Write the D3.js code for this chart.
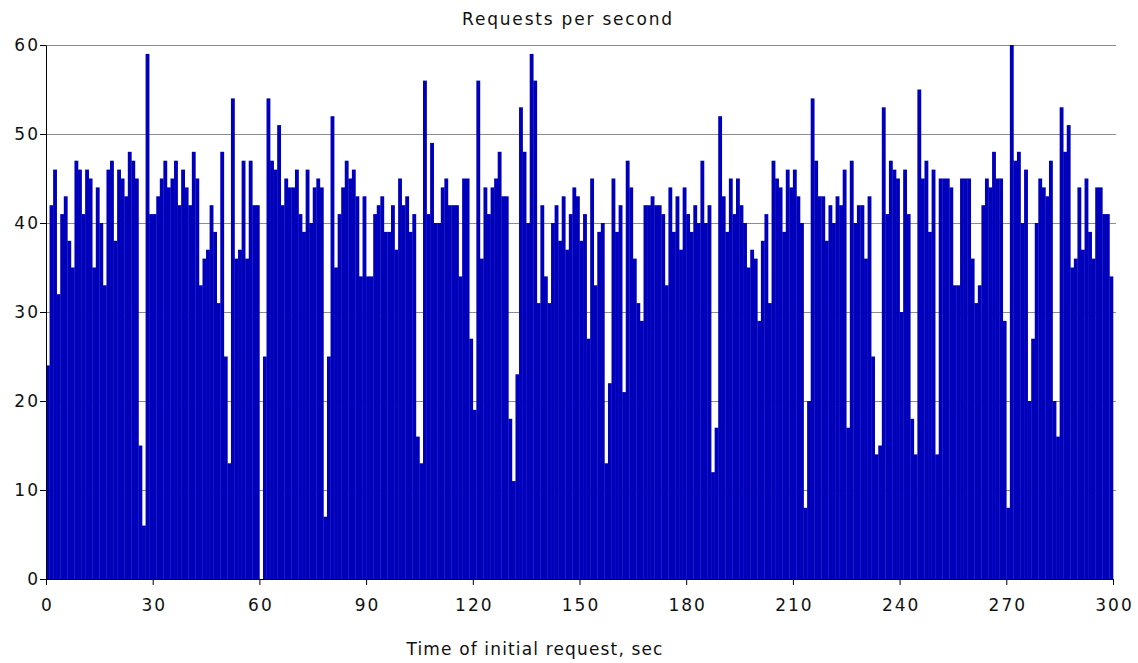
<!DOCTYPE html>
<html>
<head>
<meta charset="utf-8">
<script src="https://cdn.jsdelivr.net/npm/d3@7"></script>
<style>
  body { margin: 0; background: #fff; }
  svg { display: block; font-family: "DejaVu Sans", sans-serif; }
  .axis path, .axis line { stroke: #000; }
  .axis text { font-size: 17px; fill: #111; font-family: "DejaVu Sans", sans-serif; letter-spacing: 2px; }
</style>
</head>
<body>
<script>
// requests counted for each second of the run (0..299)
var requests = [
  24, 42, 46, 32, 41, 43, 38, 35, 47, 46, 41, 46, 45, 35, 44, 40, 33, 46, 47, 38,
  46, 45, 43, 48, 47, 45, 15, 6, 59, 41, 41, 43, 45, 47, 44, 45, 47, 42, 46, 44,
  42, 48, 45, 33, 36, 37, 42, 39, 31, 48, 25, 13, 54, 36, 37, 47, 36, 47, 42, 42,
  0, 25, 54, 47, 46, 51, 42, 45, 44, 44, 46, 41, 39, 46, 40, 44, 45, 44, 7, 25,
  52, 35, 41, 44, 47, 45, 46, 43, 34, 43, 34, 34, 41, 42, 43, 39, 39, 42, 37, 45,
  42, 43, 39, 41, 16, 13, 56, 41, 49, 40, 40, 44, 45, 42, 42, 42, 34, 45, 45, 27,
  19, 56, 36, 44, 41, 44, 45, 48, 43, 43, 18, 11, 23, 53, 48, 40, 59, 56, 31, 42,
  34, 31, 40, 42, 38, 43, 37, 41, 44, 43, 38, 41, 27, 45, 33, 39, 40, 13, 22, 45,
  39, 42, 21, 47, 44, 36, 31, 29, 42, 42, 43, 42, 42, 41, 33, 44, 39, 43, 37, 44,
  41, 39, 42, 40, 47, 40, 42, 12, 17, 52, 43, 39, 45, 41, 45, 42, 40, 35, 37, 36,
  29, 38, 41, 31, 47, 45, 44, 39, 46, 44, 46, 43, 40, 8, 20, 54, 47, 43, 43, 38,
  42, 40, 43, 42, 46, 17, 47, 40, 42, 42, 36, 43, 25, 14, 15, 53, 41, 47, 46, 45,
  30, 46, 41, 18, 14, 55, 45, 47, 39, 46, 14, 45, 45, 45, 44, 33, 33, 45, 45, 45,
  36, 31, 33, 42, 45, 44, 48, 45, 45, 29, 8, 60, 47, 48, 40, 46, 20, 27, 40, 45,
  44, 43, 47, 20, 16, 53, 48, 51, 35, 36, 44, 37, 45, 39, 36, 44, 44, 41, 41, 34
];
var xTicks = [0, 30, 60, 90, 120, 150, 180, 210, 240, 270, 300];
var yTicks = [0, 10, 20, 30, 40, 50, 60];
var title = "Requests per second";
var xTitle = "Time of initial request, sec";

var w = 1138;
var h = 663;
var margin = {top: 45, right: 25, bottom: 84, left: 46};

var svg = d3.select("body")
      .append("svg")
      .attr("width", w)
      .attr("height", h);

var xScale = d3.scaleLinear()
      .domain([0, 300])
      .range([margin.left, w - margin.right]);

var yScale = d3.scaleLinear()
      .domain([0, 60])
      .range([h - margin.bottom, margin.top]);

// horizontal grid lines
svg.append("g")
      .selectAll("line")
      .data(yTicks.slice(1))
      .enter()
      .append("line")
      .attr("x1", xScale(0))
      .attr("x2", xScale(300) + 3)
      .attr("y1", function(d) { return Math.round(yScale(d)) + 0.5; })
      .attr("y2", function(d) { return Math.round(yScale(d)) + 0.5; })
      .attr("stroke", "#8c8c8c")
      .attr("stroke-width", 1);

// one bar per second
svg.append("g")
      .selectAll("rect")
      .data(requests)
      .enter()
      .append("rect")
      .attr("x", function(d, i) { return xScale(i); })
      .attr("width", function(d, i) { return xScale(i + 1) - xScale(i) + 0.3; })
      .attr("y", function(d) { return yScale(d); })
      .attr("height", function(d) { return yScale(0) - yScale(d); })
      .attr("fill", "#0000bb");

var xAxis = d3.axisBottom(xScale)
      .tickValues(xTicks)
      .tickSize(6)
      .tickPadding(14)
      .tickSizeOuter(0);

var yAxis = d3.axisLeft(yScale)
      .tickValues(yTicks)
      .tickSize(6)
      .tickPadding(0)
      .tickSizeOuter(0);

svg.append("g")
      .attr("class", "axis")
      .attr("transform", "translate(0," + (h - margin.bottom) + ")")
      .call(xAxis)
      .selectAll("text")
      .attr("dx", "1px");

svg.append("g")
      .attr("class", "axis")
      .attr("transform", "translate(" + margin.left + ",0)")
      .call(yAxis);

// titles sit left of the plot centre, as in the original
svg.append("text")
      .attr("x", 568)
      .attr("y", 25)
      .attr("text-anchor", "middle")
      .attr("font-size", "17px")
      .attr("letter-spacing", "1.8px")
      .attr("fill", "#111")
      .text(title);

svg.append("text")
      .attr("x", 535)
      .attr("y", 655)
      .attr("text-anchor", "middle")
      .attr("font-size", "17px")
      .attr("letter-spacing", "1.15px")
      .attr("fill", "#111")
      .text(xTitle);
</script>
</body>
</html>
